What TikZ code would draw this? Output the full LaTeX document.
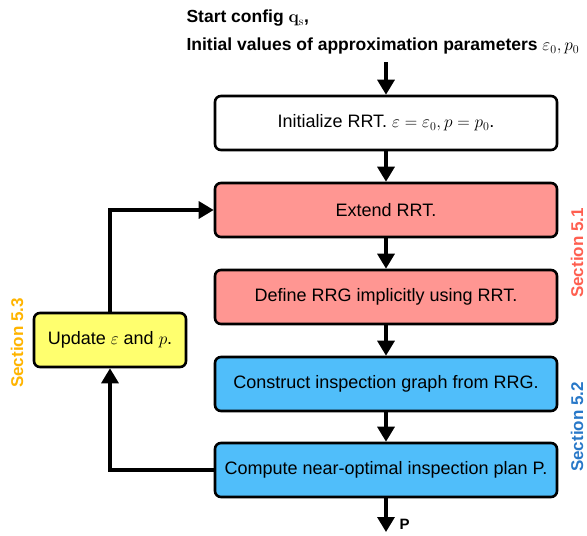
\documentclass[tikz,border=0pt]{standalone}
\usepackage{amsmath,amssymb}
\usepackage[no-math]{fontspec}
\setmainfont{Liberation Sans}
\usetikzlibrary{arrows.meta}
\definecolor{clrred}{RGB}{255,150,146}
\definecolor{clrblue}{RGB}{80,190,250}
\definecolor{clryellow}{RGB}{255,255,110}
\definecolor{clrsecred}{RGB}{255,95,80}
\definecolor{clrsecblue}{RGB}{40,120,200}
\definecolor{clrsecyellow}{RGB}{255,180,0}
\tikzset{
    StepBox/.style={draw=black,line width=2.6pt,rounded corners=6pt,
    minimum width=342pt,minimum height=54pt,font=\fontsize{18}{21}\selectfont},
    Flow/.style={line width=3.3pt,-{Triangle[width=17pt,length=15pt]}},
    SecLabel/.style={rotate=90,font=\bfseries\fontsize{17}{20}\selectfont}    }

\begin{document}
\begin{tikzpicture}[x=1pt,y=-1pt]
    \useasboundingbox (0,0) rectangle (587,536);

    % inputs
    \node[anchor=west,font=\bfseries\fontsize{17.5}{20}\selectfont] (start) at (183,18)
        {Start config $\mathbf{q}_{\mathrm{s}}$,};
    \node[anchor=west,font=\bfseries\fontsize{17.5}{20}\selectfont] (initvals) at (183,46)
        {Initial values of approximation parameters $\varepsilon_0, p_0$};
    \coordinate (in) at (386,62);

    % main column
    \node[StepBox,fill=white] (init) at (386,123)
        {Initialize RRT. $\varepsilon=\varepsilon_0, p=p_0$.};
    \node[StepBox,fill=clrred] (extend) at (386,210) {Extend RRT.};
    \node[StepBox,fill=clrred] (rrg) at (386,297) {Define RRG implicitly using RRT.};
    \node[StepBox,fill=clrblue] (graph) at (386,384) {Construct inspection graph from RRG.};
    \node[StepBox,fill=clrblue] (plan) at (386,470) {Compute near-optimal inspection plan P.};
    \coordinate (out) at (386,532);

    % feedback box
    \node[StepBox,fill=clryellow,minimum width=152pt] (update) at (110,340)
        {Update $\varepsilon$ and $p$.};

    \draw[Flow] (in) -- (init);
    \draw[Flow] (init) -- (extend);
    \draw[Flow] (extend) -- (rrg);
    \draw[Flow] (rrg) -- (graph);
    \draw[Flow] (graph) -- (plan);
    \draw[Flow] (plan) -- (out) node[anchor=south west,inner sep=0pt,xshift=12pt,yshift=1pt,
        font=\bfseries\fontsize{15}{17}\selectfont] (pout) {P};
    \draw[Flow] (plan.west) -| (update.south);
    \draw[Flow] (update.north) |- (extend.west);

    % section labels
    \node[SecLabel,text=clrsecred] (sec1) at (577,253) {Section 5.1};
    \node[SecLabel,text=clrsecblue] (sec2) at (577,427) {Section 5.2};
    \node[SecLabel,text=clrsecyellow] (sec3) at (17,343) {Section 5.3};
\end{tikzpicture}
\end{document}
